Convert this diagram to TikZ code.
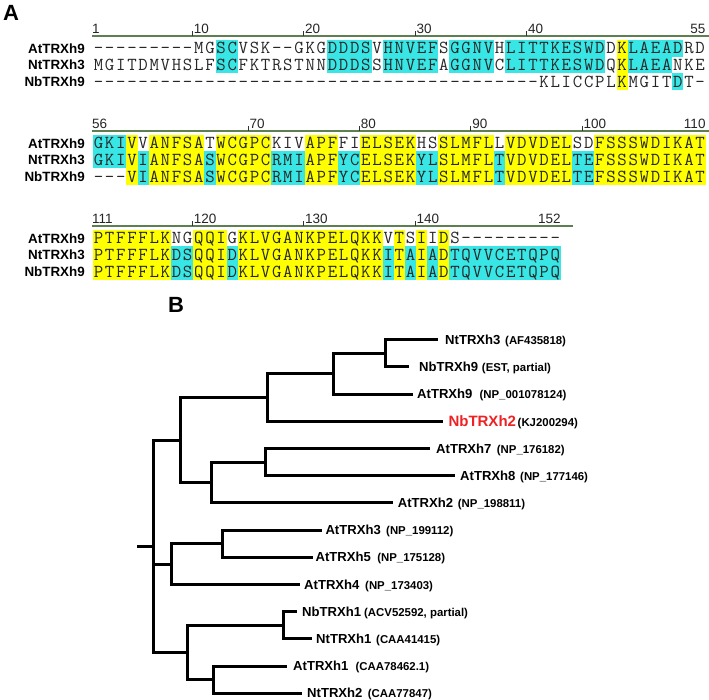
\documentclass[tikz,border=0pt]{standalone}
\usepackage{fontspec}
\setmainfont{Liberation Sans}
\definecolor{hlc}{HTML}{38E6E6}
\definecolor{hly}{HTML}{FFFF00}
\definecolor{rulec}{HTML}{5E7F52}
\definecolor{seqtxt}{HTML}{262626}
\definecolor{redlbl}{HTML}{EE2222}
\newcommand\alcw{11.14}
% highlight: color, block, row, from, to (global positions)
\newcommand\hlr[5]{%
  \fill[#1] ({93+(#4-1-55*#2)*\alcw},{48.3+95*#2+16.7*(#3-1)-8.5}) rectangle ({93+(#5-55*#2)*\alcw},{48.3+95*#2+16.7*(#3-1)+8.5});}
\newcommand\hlrr[4]{\hlr{#1}{#2}{2}{#3}{#4}\hlr{#1}{#2}{3}{#3}{#4}}
\newcommand\hlrrr[4]{\hlr{#1}{#2}{1}{#3}{#4}\hlr{#1}{#2}{2}{#3}{#4}\hlr{#1}{#2}{3}{#3}{#4}}
\newcount\seqidx
\def\seqrow#1#2#3{\seqidx=0\relax\def\sqb{#1}\def\sqr{#2}\seqloop#3\relax}
\def\seqloop#1{\ifx\relax#1\else\advance\seqidx by 1\relax
  \edef\qname{q\sqb-\sqr-\the\seqidx}\edef\qx{\the\seqidx}%
  \node[seqch] (\qname) at ({93+(\qx-0.5)*\alcw},{48.3+95*\sqb+16.7*(\sqr-1)+5.5}) {#1};%
  \expandafter\seqloop\fi}
\begin{document}
\begin{tikzpicture}[x=1pt,y=-1pt,
  seqch/.style={font=\fontsize{18.3}{18}\selectfont\ttfamily, text=seqtxt, inner sep=0pt, anchor=base},
  rowlbl/.style={font=\fontsize{13.4}{14}\selectfont\bfseries, anchor=base east, inner sep=0pt},
  numw/.style={font=\fontsize{13.5}{14}\selectfont, inner sep=0pt, text=black!85, anchor=base west},
  nume/.style={font=\fontsize{13.5}{14}\selectfont, inner sep=0pt, text=black!85, anchor=base east},
  alnrule/.style={draw=rulec, line width=1.3pt},
  tickmk/.style={draw=black!80, line width=0.8pt},
  branch/.style={line width=3pt, draw=black},
  leafname/.style={font=\fontsize{13.1}{14}\selectfont\bfseries, anchor=base west, inner sep=0pt},
  acc/.style={font=\fontsize{11.4}{12}\selectfont\bfseries, anchor=base west, inner sep=0pt},
  panel/.style={font=\fontsize{22}{22}\selectfont\bfseries, anchor=base west, inner sep=0pt}]
\fill[white] (0,0) rectangle (709,700);
\useasboundingbox (0,0) rectangle (709,700);

% ---------------- Panel A ----------------
\node[panel] (pA) at (3,21) {A};

% highlights block 0
\hlr{hlc}{0}{1}{12}{13}\hlr{hlc}{0}{2}{12}{13}
\hlr{hlc}{0}{1}{22}{25}\hlr{hlc}{0}{2}{22}{25}
\hlr{hlc}{0}{1}{27}{31}\hlr{hlc}{0}{2}{27}{31}
\hlr{hlc}{0}{1}{33}{36}\hlr{hlc}{0}{2}{33}{36}
\hlr{hlc}{0}{1}{38}{46}\hlr{hlc}{0}{2}{38}{46}
\hlrrr{hly}{0}{48}{48}
\hlr{hlc}{0}{1}{49}{53}\hlr{hlc}{0}{2}{49}{52}
\hlr{hlc}{0}{3}{53}{53}
% highlights block 1
\hlr{hlc}{1}{1}{56}{58}\hlr{hlc}{1}{2}{56}{58}
\foreach \a/\b in {59/59,61/65,67/71,75/77,80/84,87/91,93/98,101/110}{\hlrrr{hly}{1}{\a}{\b}}
\foreach \a/\b in {60/60,66/66,72/74,78/79,85/86,92/92,99/100}{\hlrr{hlc}{1}{\a}{\b}}
% highlights block 2
\foreach \a/\b in {111/117,120/122,124/136,138/138,140/140,142/142}{\hlrrr{hly}{2}{\a}{\b}}
\foreach \a/\b in {118/119,123/123,137/137,139/139,141/141,143/152}{\hlrr{hlc}{2}{\a}{\b}}

% sequences
\seqrow{0}{1}{---------MGSCVSK--GKGDDDSVHNVEFSGGNVHLITTKESWDDKLAEADRD}
\seqrow{0}{2}{MGITDMVHSLFSCFKTRSTNNDDDSSHNVEFAGGNVCLITTKESWDQKLAEANKE}
\seqrow{0}{3}{----------------------------------------KLICCPLKMGITDT-}
\seqrow{1}{1}{GKIVVANFSATWCGPCKIVAPFFIELSEKHSSLMFLLVDVDELSDFSSSWDIKAT}
\seqrow{1}{2}{GKIVIANFSASWCGPCRMIAPFYCELSEKYLSLMFLTVDVDELTEFSSSWDIKAT}
\seqrow{1}{3}{---VIANFSASWCGPCRMIAPFYCELSEKYLSLMFLTVDVDELTEFSSSWDIKAT}
\seqrow{2}{1}{PTFFFLKNGQQIGKLVGANKPELQKKVTSIIDS---------}
\seqrow{2}{2}{PTFFFLKDSQQIDKLVGANKPELQKKITAIADTQVVCETQPQ}
\seqrow{2}{3}{PTFFFLKDSQQIDKLVGANKPELQKKITAIADTQVVCETQPQ}

% row labels
\foreach \b in {0,1,2}{
  \node[rowlbl] (la\b) at (85,{48.3+95*\b+4.8}) {AtTRXh9};
  \node[rowlbl] (lt\b) at (85,{65.0+95*\b+4.8}) {NtTRXh3};
  \node[rowlbl] (lb\b) at (85,{81.7+95*\b+4.8}) {NbTRXh9};
}

% rulers
\draw[alnrule] (92,36) -- (709,36);
\draw[alnrule] (92,131) -- (709,131);
\draw[alnrule] (92,226) -- (573,226);
% block 0 numbers
\node[numw] (n1) at (92,33.5) {1};
\node[nume] (n55) at (705.7,33.5) {55};
\foreach \p/\x in {10/193.3,20/304.7,30/416.1,40/527.5}{
  \draw[tickmk] ({\x-1},36) -- ({\x-1},31.5);
  \node[numw] (n\p) at ({\x+0.3},33.5) {\p};}
% block 1 numbers
\node[numw] (n56) at (92,128.5) {56};
\node[nume] (n110) at (705.7,128.5) {110};
\foreach \p/\x in {70/249.0,80/360.4,90/471.8,100/583.2}{
  \draw[tickmk] ({\x-1},131) -- ({\x-1},126.5);
  \node[numw] (n\p) at ({\x+0.3},128.5) {\p};}
% block 2 numbers
\node[numw] (n111) at (92,223.5) {111};
\node[nume] (n152) at (560.9,223.5) {152};
\foreach \p/\x in {120/193.3,130/304.7,140/416.1}{
  \draw[tickmk] ({\x-1},226) -- ({\x-1},221.5);
  \node[numw] (n\p) at ({\x+0.3},223.5) {\p};}

% ---------------- Panel B ----------------
\node[panel] (pB) at (168,313) {B};

\coordinate (root) at (137,546);
\coordinate (R) at (153,546);
\coordinate (N1) at (180,440);
\coordinate (N4) at (267,397);
\coordinate (N6) at (333,373.5);
\coordinate (N7) at (385,353);
\coordinate (N5) at (211,482);
\coordinate (N8) at (265,462);
\coordinate (N2) at (171,564);
\coordinate (N9) at (222,543.5);
\coordinate (N3) at (187,652);
\coordinate (N10) at (283,625);
\coordinate (N11) at (213,679.5);

\coordinate (e0) at (438,339.5);
\coordinate (e1) at (409,366.5);
\coordinate (e2) at (413,394);
\coordinate (e3) at (443,421);
\coordinate (e4) at (430,448.5);
\coordinate (e5) at (455,475.5);
\coordinate (e6) at (393,502.5);
\coordinate (e7) at (322,530);
\coordinate (e8) at (313,557);
\coordinate (e9) at (300,584.5);
\coordinate (e10) at (297,611.5);
\coordinate (e11) at (312,638.5);
\coordinate (e12) at (287,666);
\coordinate (e13) at (302,693);

\draw[branch] (root) -- (R);
\draw[branch] (R) |- (N1);
\draw[branch] (R) |- (N2);
\draw[branch] (R) |- (N3);
\draw[branch] (N1) |- (N4);
\draw[branch] (N1) |- (N5);
\draw[branch] (N4) |- (N6);
\draw[branch] (N6) |- (N7);
\draw[branch] (N5) |- (N8);
\draw[branch] (N2) |- (N9);
\draw[branch] (N3) |- (N10);
\draw[branch] (N3) |- (N11);
\draw[branch] (N7) |- (e0);
\draw[branch] (N7) |- (e1);
\draw[branch] (N6) |- (e2);
\draw[branch] (N4) |- (e3);
\draw[branch] (N8) |- (e4);
\draw[branch] (N8) |- (e5);
\draw[branch] (N5) |- (e6);
\draw[branch] (N9) |- (e7);
\draw[branch] (N9) |- (e8);
\draw[branch] (N2) |- (e9);
\draw[branch] (N10) |- (e10);
\draw[branch] (N10) |- (e11);
\draw[branch] (N11) |- (e12);
\draw[branch] (N11) |- (e13);

% leaf labels
\node[leafname] (t0) at ([xshift=7pt,yshift=-4.7pt]e0) {NtTRXh3};
\node[acc] (a0) at ([xshift=4.3pt]t0.base east) {(AF435818)};
\node[leafname] (t1) at ([xshift=10pt,yshift=-4.7pt]e1) {NbTRXh9};
\node[acc] (a1) at ([xshift=3.4pt]t1.base east) {(EST, partial)};
\node[leafname] (t2) at ([xshift=4pt,yshift=-4.7pt]e2) {AtTRXh9};
\node[acc] (a2) at ([xshift=6.7pt]t2.base east) {(NP\_001078124)};
\node[leafname,text=redlbl,font=\fontsize{15}{16}\selectfont\bfseries] (t3) at ([xshift=5.3pt,yshift=-5.4pt]e3) {NbTRXh2};
\node[acc] (a3) at ([xshift=1.3pt]t3.base east) {(KJ200294)};
\node[leafname] (t4) at ([xshift=6pt,yshift=-4.7pt]e4) {AtTRXh7};
\node[acc] (a4) at ([xshift=5pt]t4.base east) {(NP\_176182)};
\node[leafname] (t5) at ([xshift=5pt,yshift=-4.7pt]e5) {AtTRXh8};
\node[acc] (a5) at ([xshift=4.3pt]t5.base east) {(NP\_177146)};
\node[leafname] (t6) at ([xshift=4.7pt,yshift=-4.7pt]e6) {AtTRXh2};
\node[acc] (a6) at ([xshift=4.3pt]t6.base east) {(NP\_198811)};
\node[leafname] (t7) at ([xshift=3.3pt,yshift=-4.7pt]e7) {AtTRXh3};
\node[acc] (a7) at ([xshift=5pt]t7.base east) {(NP\_199112)};
\node[leafname] (t8) at ([xshift=2.4pt,yshift=-4.7pt]e8) {AtTRXh5};
\node[acc] (a8) at ([xshift=6pt]t8.base east) {(NP\_175128)};
\node[leafname] (t9) at ([xshift=4pt,yshift=-4.7pt]e9) {AtTRXh4};
\node[acc] (a9) at ([xshift=5.3pt]t9.base east) {(NP\_173403)};
\node[leafname] (t10) at ([xshift=5pt,yshift=-4.7pt]e10) {NbTRXh1};
\node[acc] (a10) at ([xshift=2.6pt]t10.base east) {(ACV52592, partial)};
\node[leafname] (t11) at ([xshift=4pt,yshift=-4.7pt]e11) {NtTRXh1};
\node[acc] (a11) at ([xshift=4.3pt]t11.base east) {(CAA41415)};
\node[leafname] (t12) at ([xshift=6pt,yshift=-4.7pt]e12) {AtTRXh1};
\node[acc] (a12) at ([xshift=6.7pt]t12.base east) {(CAA78462.1)};
\node[leafname] (t13) at ([xshift=5pt,yshift=-4.7pt]e13) {NtTRXh2};
\node[acc] (a13) at ([xshift=5pt]t13.base east) {(CAA77847)};
\end{tikzpicture}
\end{document}
